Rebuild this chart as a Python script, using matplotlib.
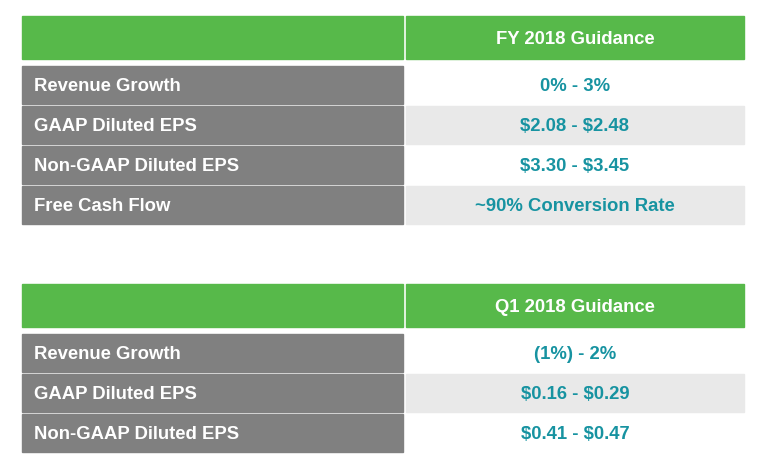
import matplotlib.pyplot as plt

# Guidance tables
fy_title = "FY 2018 Guidance"
fy_labels = ["Revenue Growth", "GAAP Diluted EPS", "Non-GAAP Diluted EPS", "Free Cash Flow"]
fy_values = ["0% - 3%", "$2.08 - $2.48", "$3.30 - $3.45", "~90% Conversion Rate"]

q1_title = "Q1 2018 Guidance"
q1_labels = ["Revenue Growth", "GAAP Diluted EPS", "Non-GAAP Diluted EPS"]
q1_values = ["(1%) - 2%", "$0.16 - $0.29", "$0.41 - $0.47"]

GREEN = "#57b94a"
GRAY = "#808080"
LIGHT = "#e9e9e9"
TEAL = "#1793a1"

plt.rcParams['font.family'] = ['Liberation Sans', 'DejaVu Sans']
plt.rcParams['text.parse_math'] = False

fig = plt.figure(figsize=(7.64, 4.70), dpi=100)
ax = fig.add_axes([0, 0, 1, 1])
ax.set_xlim(0, 764)
ax.set_ylim(470, 0)
ax.axis('off')

left, split, right = 22, 404, 744
FS = 13.3
dy = 1.5  # nudge text to optical centre


def draw_table(top, title, labels, values):
    # header
    hh = 43
    ax.barh(top + hh / 2, split - 1 - left, height=hh, left=left, color=GREEN, edgecolor=GREEN)
    ax.barh(top + hh / 2, right - split - 2, height=hh, left=split + 2, color=GREEN, edgecolor=GREEN)
    ax.text((split + 2 + right) / 2, top + hh / 2 + dy, title, ha='center', va='center',
            color='white', fontsize=FS, fontweight='bold')
    # rows
    y0 = top + hh + 7
    rh = 40
    for i, (lab, val) in enumerate(zip(labels, values)):
        yc = y0 + i * rh + (rh - 2) / 2
        ax.barh(yc, split - 1 - left, height=rh - 2, left=left, color=GRAY, edgecolor=GRAY)
        bg = LIGHT if i % 2 == 1 else 'white'
        ax.barh(yc, right - split - 2, height=rh - 2, left=split + 2, color=bg, edgecolor=bg)
        ax.text(34, yc + dy, lab, ha='left', va='center', color='white',
                fontsize=FS, fontweight='bold')
        ax.text((split + 2 + right) / 2, yc + dy, val, ha='center', va='center', color=TEAL,
                fontsize=FS, fontweight='bold')


draw_table(16, fy_title, fy_labels, fy_values)
draw_table(284, q1_title, q1_labels, q1_values)

fig.savefig("out.png", dpi=100)
